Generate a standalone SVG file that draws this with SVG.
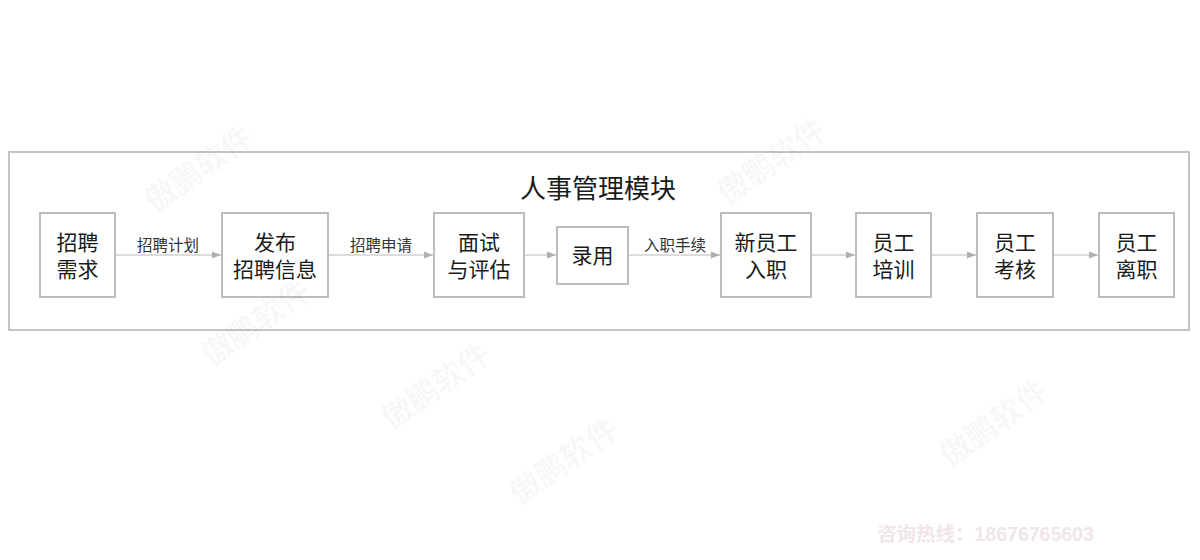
<svg xmlns="http://www.w3.org/2000/svg" width="1200" height="560" viewBox="0 0 1200 560">
<defs>
<marker id="arr" viewBox="0 0 10 10" refX="10" refY="5" markerWidth="9" markerHeight="9" markerUnits="userSpaceOnUse" orient="auto">
<path d="M0,1 L10,5 L0,9 Z" fill="#b0b0b0"/>
</marker>
<style>
.box{fill:#fff;stroke:#bdbdbd;stroke-width:2}
.t{font-family:"Noto Sans CJK SC","Liberation Sans",sans-serif;font-size:21px;fill:#1a1a1a;text-anchor:middle}
.lbl{font-family:"Noto Sans CJK SC","Liberation Sans",sans-serif;font-size:15.5px;fill:#333;text-anchor:middle}
.ln{stroke:#d0d0d0;stroke-width:1.5;fill:none;marker-end:url(#arr)}
.wm{font-family:"Noto Sans CJK SC",sans-serif;font-size:31px;font-weight:bold;fill:#000;fill-opacity:0.045;text-anchor:middle}
</style>
</defs>
<rect width="1200" height="560" fill="#fff"/>
<rect x="9" y="152" width="1180" height="178" fill="none" stroke="#c4c4c4" stroke-width="2"/>
<text class="t" x="598" y="198" style="font-size:26px">人事管理模块</text>
<g id="connectors">
<line class="ln" x1="115" y1="255" x2="221" y2="255"/>
<line class="ln" x1="328" y1="255" x2="433" y2="255"/>
<line class="ln" x1="524" y1="255" x2="556" y2="255"/>
<line class="ln" x1="628" y1="255" x2="720" y2="255"/>
<line class="ln" x1="811" y1="255" x2="855" y2="255"/>
<line class="ln" x1="931" y1="255" x2="976" y2="255"/>
<line class="ln" x1="1053" y1="255" x2="1098" y2="255"/>
<text class="lbl" x="168" y="251">招聘计划</text>
<text class="lbl" x="381" y="251">招聘申请</text>
<text class="lbl" x="675" y="251">入职手续</text>
</g>
<g id="n1"><rect class="box" x="40" y="213" width="75" height="84"/><text class="t" x="77.5" y="250">招聘<tspan x="77.5" dy="27">需求</tspan></text></g>
<g id="n2"><rect class="box" x="222" y="213" width="106" height="84"/><text class="t" x="275" y="250">发布<tspan x="275" dy="27">招聘信息</tspan></text></g>
<g id="n3"><rect class="box" x="434" y="213" width="90" height="84"/><text class="t" x="479" y="250">面试<tspan x="479" dy="27">与评估</tspan></text></g>
<g id="n4"><rect class="box" x="557" y="227" width="71" height="57"/><text class="t" x="592.5" y="263">录用</text></g>
<g id="n5"><rect class="box" x="721" y="213" width="90" height="84"/><text class="t" x="766" y="250">新员工<tspan x="766" dy="27">入职</tspan></text></g>
<g id="n6"><rect class="box" x="856" y="213" width="75" height="84"/><text class="t" x="893.5" y="250">员工<tspan x="893.5" dy="27">培训</tspan></text></g>
<g id="n7"><rect class="box" x="977" y="213" width="76" height="84"/><text class="t" x="1015" y="250">员工<tspan x="1015" dy="27">考核</tspan></text></g>
<g id="n8"><rect class="box" x="1099" y="213" width="75" height="84"/><text class="t" x="1136.5" y="250">员工<tspan x="1136.5" dy="27">离职</tspan></text></g>
<g id="watermarks">
<text class="wm" transform="translate(205,178) rotate(-35)">傲鹏软件</text>
<text class="wm" transform="translate(262,332) rotate(-35)">傲鹏软件</text>
<text class="wm" transform="translate(442,395) rotate(-35)">傲鹏软件</text>
<text class="wm" transform="translate(570,470) rotate(-35)">傲鹏软件</text>
<text class="wm" transform="translate(778,170) rotate(-35)">傲鹏软件</text>
<text class="wm" transform="translate(1000,432) rotate(-35)">傲鹏软件</text>
</g>
<text x="877" y="541" style="font-family:'Liberation Sans','Noto Sans CJK SC',sans-serif;font-size:19.5px;font-weight:bold;fill:#f0e6e8">咨询热线：18676765603</text>
</svg>
